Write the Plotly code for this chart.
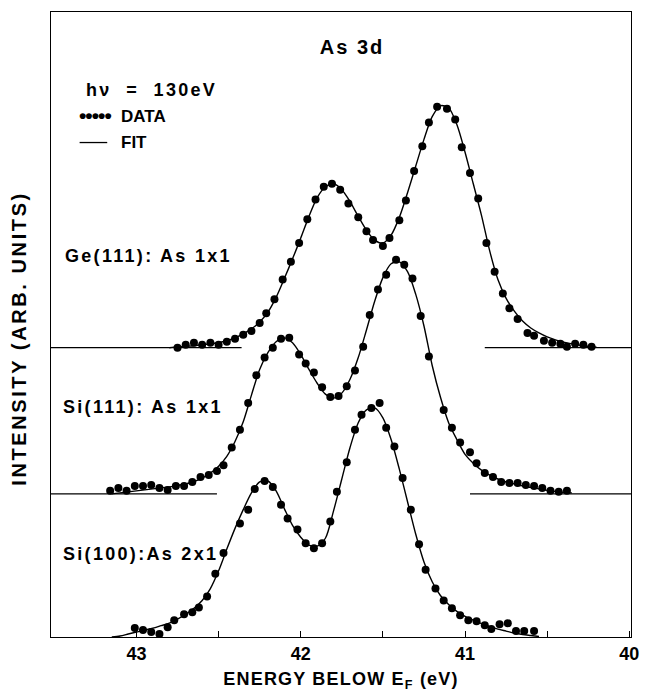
import plotly.graph_objects as go

# ---------------- data ----------------
# Energy below E_F (eV) and intensity above each spectrum's own baseline (arb. units)
ge_E = [42.75, 42.70, 42.65, 42.60, 42.55, 42.50, 42.45, 42.40, 42.35, 42.30,
        42.25, 42.21, 42.16, 42.11, 42.06, 42.01, 41.96, 41.91, 41.86, 41.81,
        41.76, 41.71, 41.65, 41.60, 41.56, 41.50, 41.46, 41.40, 41.36, 41.31,
        41.26, 41.22, 41.17, 41.11, 41.06, 41.02, 40.97, 40.92, 40.87, 40.82,
        40.77, 40.73, 40.68, 40.62, 40.58, 40.52, 40.47, 40.42, 40.38, 40.33,
        40.28, 40.23]
ge_I = [0, 3, 5, 3, 5, 3, 6, 9, 13, 17,
        25, 35, 49, 69, 87, 106, 130, 150, 163, 166,
        160, 146, 132, 118, 109, 103, 111, 129, 149, 179,
        204, 228, 244, 242, 231, 203, 177, 151, 106, 77,
        55, 40, 29, 15, 12, 7, 5, 4, 1, 4,
        3, 1]

si111_E = [43.16, 43.11, 43.06, 43.01, 42.96, 42.91, 42.86, 42.81, 42.76, 42.71,
           42.66, 42.61, 42.56, 42.51, 42.47, 42.42, 42.37, 42.32, 42.27, 42.22,
           42.17, 42.12, 42.07, 42.01, 41.97, 41.92, 41.87, 41.82, 41.77, 41.72,
           41.67, 41.62, 41.58, 41.53, 41.48, 41.42, 41.37, 41.32, 41.27, 41.22,
           41.13, 41.08, 41.03, 40.97, 40.93, 40.88, 40.83, 40.78, 40.73, 40.68,
           40.63, 40.58, 40.53, 40.48, 40.43, 40.38]
si111_I = [3, 6, 3, 8, 8, 9, 6, 4, 8, 8,
           12, 17, 19, 23, 29, 47, 65, 92, 120, 138,
           148, 157, 158, 141, 132, 123, 108, 98, 99, 109,
           125, 149, 181, 207, 222, 237, 232, 218, 180, 139,
           85, 67, 52, 42, 31, 21, 17, 12, 11, 11,
           9, 8, 6, 3, 2, 3]

si100_E = [43.01, 42.96, 42.91, 42.86, 42.81, 42.77, 42.71, 42.66, 42.62, 42.57,
           42.52, 42.47, 42.37, 42.32, 42.28, 42.22, 42.17, 42.12, 42.08, 42.02,
           41.97, 41.92, 41.87, 41.82, 41.78, 41.72, 41.67, 41.63, 41.57, 41.52,
           41.48, 41.43, 41.38, 41.33, 41.28, 41.24, 41.18, 41.13, 41.08, 41.03,
           40.98, 40.93, 40.88, 40.84, 40.79, 40.74, 40.69, 40.64, 40.58]
si100_I = [9, 7, 5, 3, 10, 17, 23, 25, 30, 41,
           64, 85, 115, 129, 150, 158, 152, 134, 120, 109,
           95, 90, 95, 117, 147, 177, 210, 225, 232, 237,
           212, 193, 161, 129, 94, 68, 49, 37, 29, 22,
           17, 16, 12, 8, 13, 14, 6, 6, 6]

# Fit curves
ge_fit_E = [42.80, 42.75, 42.70, 42.65, 42.60, 42.55, 42.50, 42.45, 42.40, 42.35,
            42.30, 42.25, 42.20, 42.15, 42.10, 42.05, 42.00, 41.95, 41.90, 41.85,
            41.80, 41.75, 41.70, 41.65, 41.60, 41.55, 41.50, 41.45, 41.40, 41.35,
            41.30, 41.25, 41.20, 41.15, 41.10, 41.05, 41.00, 40.95, 40.90, 40.85,
            40.80, 40.75, 40.70, 40.65, 40.60, 40.55, 40.50, 40.45, 40.40, 40.35,
            40.30, 40.25, 40.20]
ge_fit_I = [0, 1, 1.5, 2, 3, 4, 5, 7, 10, 14,
            19, 26, 36, 51, 70, 90, 111, 133, 152, 163,
            166, 160, 148, 133, 119, 109, 106, 114, 132, 157,
            184, 211, 234, 245, 243, 226, 198, 166, 134, 98,
            69, 50, 37, 27, 20, 15, 11, 8, 5.5, 4,
            2.5, 1.5, 0.5]

si111_fit_E = [43.15, 43.10, 43.05, 43.00, 42.95, 42.90, 42.85, 42.80, 42.75, 42.70,
               42.65, 42.60, 42.55, 42.50, 42.45, 42.40, 42.35, 42.30, 42.25, 42.20,
               42.15, 42.10, 42.05, 42.00, 41.95, 41.90, 41.85, 41.80, 41.75, 41.70,
               41.65, 41.60, 41.55, 41.50, 41.45, 41.40, 41.35, 41.30, 41.25, 41.20,
               41.15, 41.10, 41.05, 41.00, 40.95, 40.90, 40.85, 40.80, 40.75, 40.70,
               40.65, 40.60, 40.55, 40.50, 40.45, 40.40, 40.35]
si111_fit_I = [0, 1, 2, 3, 4, 5, 6, 7, 8.5, 10,
               12.5, 16, 21, 28, 38, 53, 73, 100, 126, 143,
               154, 158, 153, 141, 126, 112, 101, 97, 102, 116,
               138, 166, 195, 219, 233, 235, 225, 202, 170, 130,
               98, 72, 55, 40, 31, 24, 19, 15, 12, 10,
               8, 6.5, 5, 3.5, 2.5, 1.5, 1]

si100_fit_E = [43.15, 43.10, 43.05, 43.00, 42.95, 42.90, 42.85, 42.80, 42.75, 42.70,
               42.65, 42.60, 42.55, 42.50, 42.45, 42.40, 42.35, 42.30, 42.25, 42.20,
               42.15, 42.10, 42.05, 42.00, 41.95, 41.90, 41.85, 41.80, 41.75, 41.70,
               41.65, 41.60, 41.55, 41.50, 41.45, 41.40, 41.35, 41.30, 41.25, 41.20,
               41.15, 41.10, 41.05, 41.00, 40.95, 40.90, 40.85, 40.80, 40.75, 40.70,
               40.65, 40.60, 40.55]
si100_fit_I = [0, 1, 3, 5, 7, 9, 11.5, 14, 18, 23,
               29, 37, 49, 67, 89, 110, 129, 146, 157, 158,
               148, 130, 113, 101, 93, 92, 100, 128, 160, 192,
               217, 230, 232, 222, 200, 170, 137, 104, 76, 56,
               42, 33, 26, 21, 17, 13.5, 10.5, 8, 6, 4,
               2.5, 1.5, 0.5]

# vertical offsets of the stacked spectra (arb. units)
ge_offset = 293
si111_offset = 145
si100_offset = 0

# drawn baseline segments (energy ranges)
ge_base_left = [43.52, 42.36]
ge_base_right = [40.88, 39.99]
si111_base_left = [43.52, 42.51]
si111_base_right = [40.97, 39.99]

x_range = [43.52, 39.99]
y_range = [0, 633]
tick_vals = [43, 42, 41, 40]
tick_text = ["43", "42", "41", "40"]
minor_tick_vals = [42.5, 41.5, 40.5]

FONT = "Liberation Sans, Arial, Helvetica, sans-serif"

fig = go.Figure()


def add_spectrum(E, I, fE, fI, off, name):
    fig.add_trace(go.Scatter(
        x=fE, y=[v + off for v in fI], mode="lines",
        line=dict(color="black", width=1.4, shape="spline", smoothing=0.8),
        name=name + " fit", showlegend=False, hoverinfo="skip"))
    fig.add_trace(go.Scatter(
        x=E, y=[v + off for v in I], mode="markers",
        marker=dict(color="black", size=8),
        name=name + " data", showlegend=False))


def add_base(xs, off):
    fig.add_trace(go.Scatter(
        x=xs, y=[off, off], mode="lines",
        line=dict(color="black", width=1.2), showlegend=False, hoverinfo="skip"))


add_base(ge_base_left, ge_offset)
add_base(ge_base_right, ge_offset)
add_base(si111_base_left, si111_offset)
add_base(si111_base_right, si111_offset)

add_spectrum(ge_E, ge_I, ge_fit_E, ge_fit_I, ge_offset, "Ge(111): As 1x1")
add_spectrum(si111_E, si111_I, si111_fit_E, si111_fit_I, si111_offset, "Si(111): As 1x1")
add_spectrum(si100_E, si100_I, si100_fit_E, si100_fit_I, si100_offset, "Si(100):As 2x1")

W, H = 648, 694
L, R, T, B = 51, 9, 12, 50
pw, ph = W - L - R, H - T - B


def px(xp):
    return (xp - L) / pw


def py(yp):
    return (H - B - yp) / ph


def spaced(text, ls):
    if ls == 0:
        return text
    return '<span style="letter-spacing:%spx">%s</span>' % (ls, text)


def ann(text, x, y, size=18, xanchor="left", ls=0, angle=0):
    fig.add_annotation(text=spaced(text, ls), x=px(x), y=py(y), xref="paper", yref="paper",
                       xanchor=xanchor, yanchor="middle", showarrow=False, textangle=angle,
                       font=dict(family=FONT, size=size, color="black", weight="bold"))


ann("h\u03bd  =  130eV", 84, 91, size=18, ls=2.3)
ann("\u2022\u2022\u2022\u2022\u2022", 77, 117, size=21, ls=-1)
ann("DATA", 120, 118, size=17)
ann("FIT", 120, 144, size=17)
ann("Ge(111): As 1x1", 63, 259, size=18, ls=2.3)
ann("Si(111): As 1x1", 61, 411, size=18, ls=2.3)
ann("Si(100):As 2x1", 61, 560, size=18, ls=2.3)
ann("INTENSITY (ARB. UNITS)", 19, 342, size=20, xanchor="center", ls=2.6, angle=-90)

fig.add_shape(type="line", xref="paper", yref="paper",
              x0=px(80), x1=px(108), y0=py(144), y1=py(144),
              line=dict(color="black", width=1.3))

fig.update_layout(
    width=W, height=H,
    margin=dict(l=L, r=R, t=T, b=B),
    paper_bgcolor="white", plot_bgcolor="white",
    font=dict(family=FONT, color="black"),
    showlegend=False,
    title=dict(text=spaced("As 3d", 2), x=352 / W, y=1 - 47 / H,
               xref="container", yref="container", xanchor="center", yanchor="middle",
               font=dict(family=FONT, size=20, color="black", weight="bold")),
    xaxis=dict(
        range=x_range, tickmode="array", tickvals=tick_vals, ticktext=tick_text,
        ticks="inside", ticklen=6, tickwidth=1, tickcolor="black",
        minor=dict(tickmode="array", tickvals=minor_tick_vals, ticks="inside",
                   ticklen=6, tickwidth=1, tickcolor="black", showgrid=False),
        showline=True, linecolor="black", linewidth=1.3, mirror=True,
        showgrid=False, zeroline=False,
        tickfont=dict(family=FONT, size=18, color="black", weight="bold"),
        title=dict(text=spaced("ENERGY BELOW E<sub>F</sub> (eV)", 1.2), standoff=9,
                   font=dict(family=FONT, size=18, color="black", weight="bold")),
    ),
    yaxis=dict(
        range=y_range, showticklabels=False, ticks="",
        showline=True, linecolor="black", linewidth=1.3, mirror=True,
        showgrid=False, zeroline=False,
    ),
)

fig.write_html("out.html")
